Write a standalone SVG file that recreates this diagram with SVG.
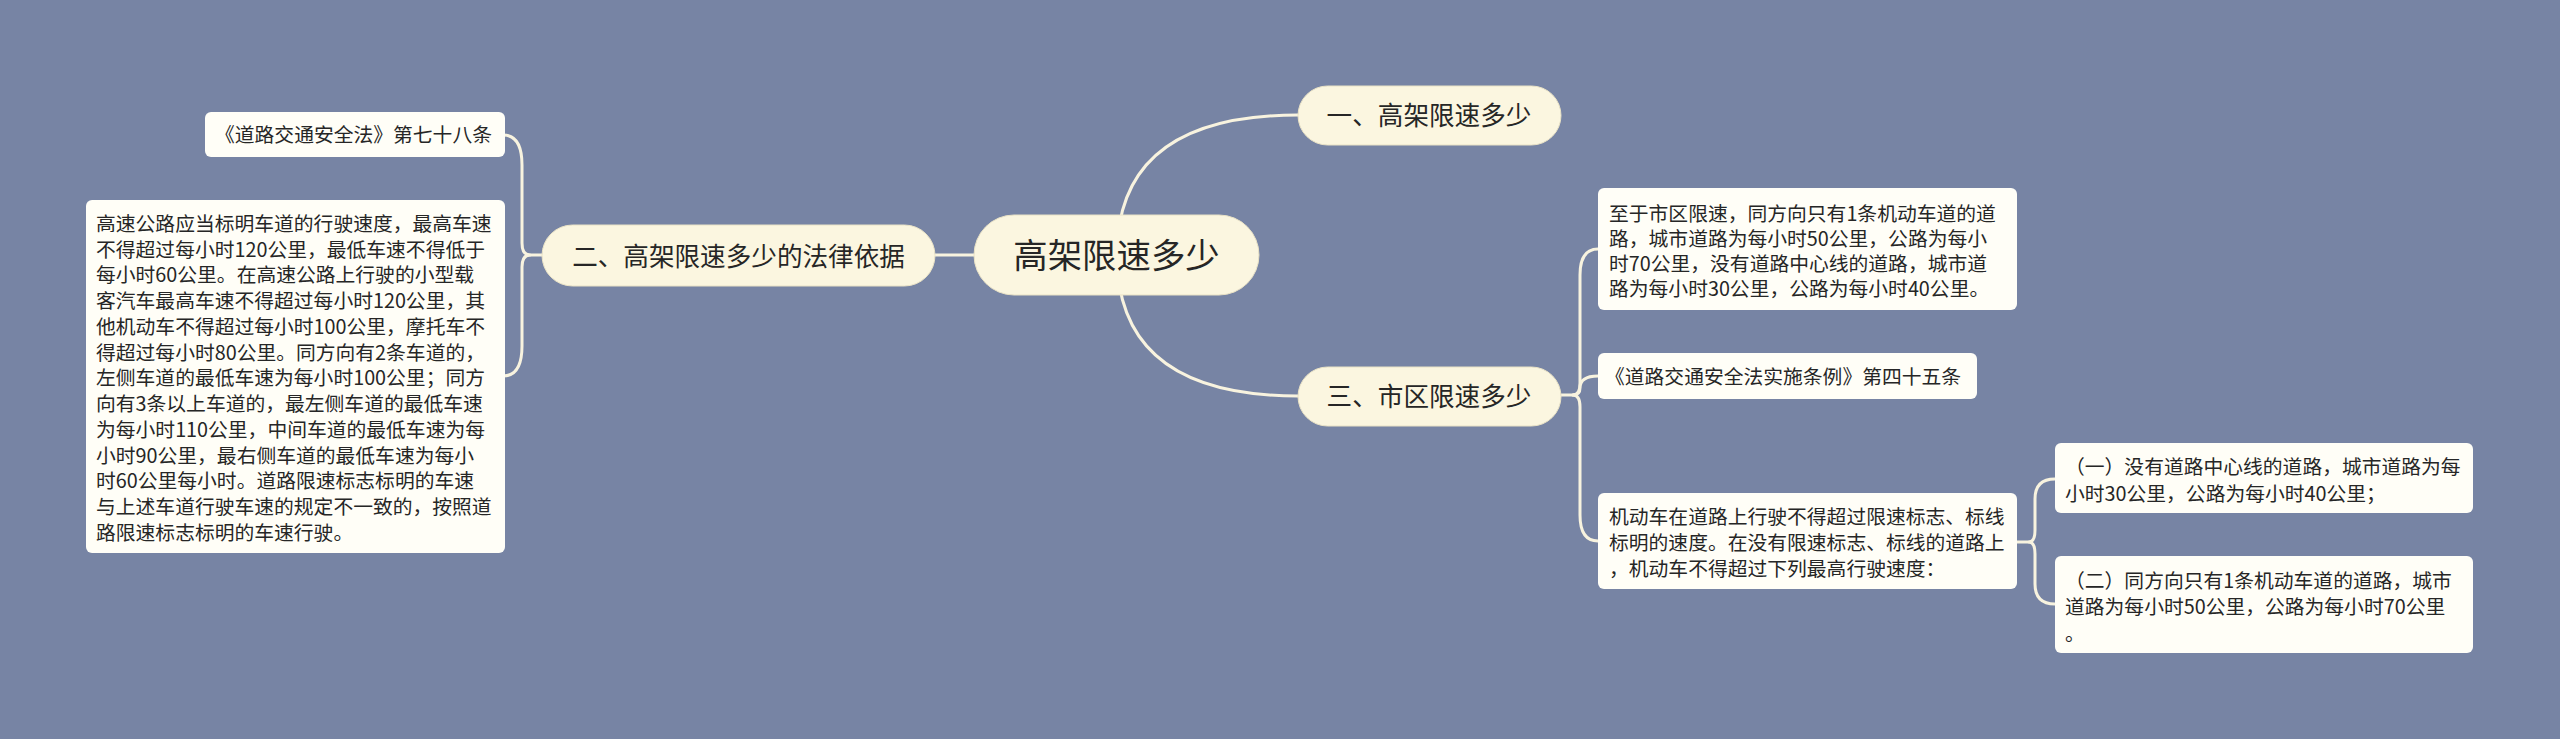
<svg xmlns="http://www.w3.org/2000/svg" width="2560" height="739" viewBox="0 0 2560 739">
<style>
.bg{fill:#7784a4}
.main{fill:#fbf6e0;stroke:#e9e2c6;stroke-width:1}
.leaf{fill:#fffef7}
.conn{fill:none;stroke:#f8f3df;stroke-width:3;stroke-linecap:round}
text{font-family:"Noto Sans CJK SC","Noto Sans",sans-serif;fill:#262626}
.tb{font-size:25.6px;text-anchor:middle}
.tl{font-size:19.8px}
</style>
<rect class="bg" x="0" y="0" width="2560" height="739"/>
<g id="connectors">
<path class="conn" d="M1117,255 Q1117,115 1298,115"/>
<path class="conn" d="M1117,255 Q1117,396 1298,396"/>
<path class="conn" d="M974,255 H935"/>
<path class="conn" d="M542,255 H530 Q522,255 522,243 V165 Q522,135 503,135"/>
<path class="conn" d="M530,255 Q522,255 522,267 V346 Q522,376 503,376"/>
<path class="conn" d="M1561,395 H1573 Q1580,395 1580,383 V275 Q1580,249 1598,249"/>
<path class="conn" d="M1573,395 Q1580,395 1580,388 Q1580,376 1598,376"/>
<path class="conn" d="M1573,395 Q1580,395 1580,407 V515 Q1580,541 1598,541"/>
<path class="conn" d="M2017,542 H2029 Q2035,542 2035,530 V499 Q2035,479 2055,479"/>
<path class="conn" d="M2029,542 Q2035,542 2035,554 V584 Q2035,604 2055,604"/>
</g>
<g id="center">
<rect class="main" x="974" y="215" width="285" height="80" rx="40"/>
<text x="1116.5" y="268" font-size="34.4" text-anchor="middle">高架限速多少</text>
</g>
<g id="n1">
<rect class="main" x="1298" y="86" width="263" height="59" rx="29.5"/>
<text class="tb" x="1429" y="125">一、高架限速多少</text>
</g>
<g id="n2">
<rect class="main" x="542" y="225" width="393" height="61" rx="30.5"/>
<text class="tb" x="738.5" y="265.5">二、高架限速多少的法律依据</text>
</g>
<g id="n3">
<rect class="main" x="1298" y="367" width="263" height="59" rx="29.5"/>
<text class="tb" x="1429" y="406">三、市区限速多少</text>
</g>
<g id="n2a">
<rect class="leaf" x="205" y="112" width="300" height="45" rx="6"/>
<text class="tl" x="215" y="142">《道路交通安全法》第七十八条</text>
</g>
<g id="n2b">
<rect class="leaf" x="86" y="200" width="419" height="353" rx="6"/>
<text class="tl" x="96" y="230.8">
<tspan x="96">高速公路应当标明车道的行驶速度，最高车速</tspan>
<tspan x="96" dy="25.75">不得超过每小时120公里，最低车速不得低于</tspan>
<tspan x="96" dy="25.75">每小时60公里。在高速公路上行驶的小型载</tspan>
<tspan x="96" dy="25.75">客汽车最高车速不得超过每小时120公里，其</tspan>
<tspan x="96" dy="25.75">他机动车不得超过每小时100公里，摩托车不</tspan>
<tspan x="96" dy="25.75">得超过每小时80公里。同方向有2条车道的，</tspan>
<tspan x="96" dy="25.75">左侧车道的最低车速为每小时100公里；同方</tspan>
<tspan x="96" dy="25.75">向有3条以上车道的，最左侧车道的最低车速</tspan>
<tspan x="96" dy="25.75">为每小时110公里，中间车道的最低车速为每</tspan>
<tspan x="96" dy="25.75">小时90公里，最右侧车道的最低车速为每小</tspan>
<tspan x="96" dy="25.75">时60公里每小时。道路限速标志标明的车速</tspan>
<tspan x="96" dy="25.75">与上述车道行驶车速的规定不一致的，按照道</tspan>
<tspan x="96" dy="25.75">路限速标志标明的车速行驶。</tspan>
</text>
</g>
<g id="n3a">
<rect class="leaf" x="1598" y="188" width="419" height="122" rx="6"/>
<text class="tl" x="1609" y="220.8">
<tspan x="1609">至于市区限速，同方向只有1条机动车道的道</tspan>
<tspan x="1609" dy="25">路，城市道路为每小时50公里，公路为每小</tspan>
<tspan x="1609" dy="25">时70公里，没有道路中心线的道路，城市道</tspan>
<tspan x="1609" dy="25">路为每小时30公里，公路为每小时40公里。</tspan>
</text>
</g>
<g id="n3b">
<rect class="leaf" x="1598" y="353" width="379" height="46" rx="6"/>
<text class="tl" x="1605" y="383.5">《道路交通安全法实施条例》第四十五条</text>
</g>
<g id="n3c">
<rect class="leaf" x="1598" y="493" width="419" height="96" rx="6"/>
<text class="tl" x="1609" y="524">
<tspan x="1609">机动车在道路上行驶不得超过限速标志、标线</tspan>
<tspan x="1609" dy="25.8">标明的速度。在没有限速标志、标线的道路上</tspan>
<tspan x="1609" dy="25.8">，机动车不得超过下列最高行驶速度：</tspan>
</text>
</g>
<g id="n3c1">
<rect class="leaf" x="2055" y="443" width="418" height="70" rx="6"/>
<text class="tl" x="2065" y="474">
<tspan x="2065">（一）没有道路中心线的道路，城市道路为每</tspan>
<tspan x="2065" dy="26.6">小时30公里，公路为每小时40公里；</tspan>
</text>
</g>
<g id="n3c2">
<rect class="leaf" x="2055" y="556" width="418" height="97" rx="6"/>
<text class="tl" x="2065" y="587.5">
<tspan x="2065">（二）同方向只有1条机动车道的道路，城市</tspan>
<tspan x="2065" dy="26.6">道路为每小时50公里，公路为每小时70公里</tspan>
<tspan x="2065" dy="26.6">。</tspan>
</text>
</g>
</svg>
